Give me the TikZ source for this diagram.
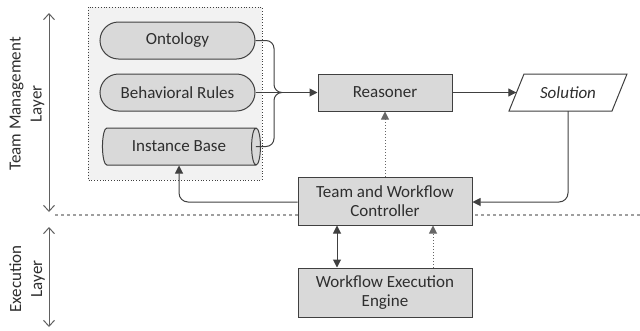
\documentclass[tikz,border=0pt]{standalone}
\usepackage{fontspec}
\setmainfont{Carlito}
\usetikzlibrary{arrows.meta,shapes.geometric,shapes.misc}
\definecolor{boxfill}{HTML}{D9D9D9}
\definecolor{edgec}{HTML}{404040}
\definecolor{txtc}{HTML}{2E2E2E}
\definecolor{panel}{HTML}{F2F2F2}
\definecolor{layc}{HTML}{606060}
\begin{document}
\begin{tikzpicture}[x=1pt,y=-1pt,
  font=\fontsize{17}{19}\selectfont, text=txtc,
  box/.style={draw=edgec, fill=boxfill, line width=1pt, align=center, inner sep=0pt},
  stadium/.style={box, rounded rectangle, minimum width=155pt, minimum height=37pt},
  conn/.style={draw=edgec, line width=1pt},
  arr/.style={conn, -{Triangle[length=8pt,width=8pt]}},
  darr/.style={conn, {Triangle[length=8pt,width=8pt]}-{Triangle[length=8pt,width=8pt]}},
  dotarr/.style={draw=edgec!80, line width=1pt, dotted, -{Triangle[length=8pt,width=8pt]}},
  layerarr/.style={draw=layc, line width=1pt, {Straight Barb[length=6pt,width=11pt]}-{Straight Barb[length=6pt,width=11pt]}},
  laylabel/.style={rotate=90, align=center, font=\fontsize{17}{21}\selectfont}
]
\useasboundingbox (0,0) rectangle (640,330);

% panel
\draw[fill=panel, draw=edgec, dotted, line width=0.8pt] (88,7) rectangle (262,180);

% dashed separator
\draw[draw=gray!75, dashed, line width=1.5pt, dash pattern=on 3pt off 3pt] (55,215) -- (640,215);

% layer arrows
\coordinate (t1) at (49,13);
\coordinate (t2) at (49,212);
\coordinate (b1) at (49,227);
\coordinate (b2) at (49,327);
\draw[layerarr] (t1) -- (t2);
\draw[layerarr] (b1) -- (b2);
\node[laylabel] (tml) at (27,104) {Team Management\\Layer};
\node[laylabel] (exl) at (27,279) {Execution\\Layer};

% stores
\node[stadium] (ont) at (177.5,40.5) {Ontology};
\node[stadium] (beh) at (177.5,92.5) {Behavioral Rules};
\node[box, cylinder, shape aspect=0.8, minimum width=37pt, minimum height=158pt, cylinder uses custom fill, cylinder body fill=boxfill, cylinder end fill=boxfill] (inst) at (179,146.5) {Instance Base};

% main boxes
\node[box, minimum width=134pt, minimum height=37pt] (rea) at (385,92.5) {Reasoner};
\node[box, minimum width=174pt, minimum height=48pt] (ctl) at (385,201) {Team and Workflow\\Controller};
\node[box, minimum width=174pt, minimum height=49pt] (eng) at (385,292.5) {Workflow Execution\\Engine};

% solution
\draw[draw=edgec, fill=white, line width=1pt] (509,111) -- (524,74) -- (627,74) -- (612,111) -- cycle;
\node[minimum width=103pt, minimum height=37pt, inner sep=0pt] (sol) at (568,92.5) {\itshape Solution};

% connectors
\coordinate (j) at (274,92.5);
\draw[conn, rounded corners=8pt] (ont.east) -- (ont.east -| j) -- (j) -- ++(8,0);
\draw[conn, rounded corners=8pt] ([xshift=-5pt]inst.east) -- (inst.east -| j) -- (j) -- ++(8,0);
\draw[arr] (beh.east) -- (rea.west);
\draw[arr] (rea.east) -- (sol.west);
\draw[arr, rounded corners=9pt] (sol.south) -- (sol.south |- 0,202) -- (ctl.east |- 0,202);
\draw[arr, rounded corners=9pt] (ctl.west |- 0,202) -- (inst.south |- 0,202) -- (inst.south);
\draw[dotarr] (ctl.north) -- (rea.south);
\draw[darr] (ctl.south -| 337,0) -- (eng.north -| 337,0);
\draw[dotarr] (eng.north -| 433,0) -- (ctl.south -| 433,0);
\end{tikzpicture}
\end{document}
